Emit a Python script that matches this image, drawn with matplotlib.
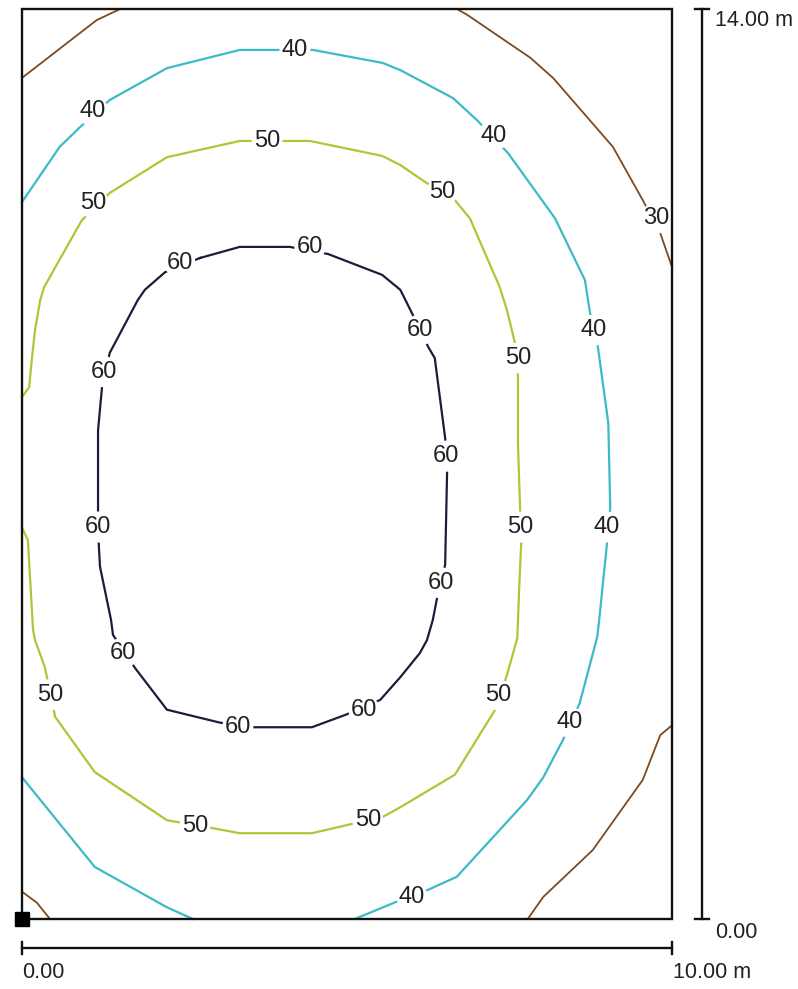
import numpy as np
import matplotlib.pyplot as plt

# Room is 10 m x 14 m, isolines traced in metres (x along width, y along depth)
room_w = 10.0
room_d = 14.0

# 60 isoline (closed loop)
iso60 = [(2.74, 10.17), (3.35, 10.34), (4.12, 10.34), (4.71, 10.23), (5.54, 9.91),
         (5.82, 9.68), (6.00, 9.32), (6.25, 8.80), (6.35, 8.63), (6.51, 7.40),
         (6.54, 6.88), (6.51, 5.45), (6.38, 4.91), (6.32, 4.60), (6.23, 4.29),
         (6.12, 4.09), (5.82, 3.72), (5.51, 3.37), (5.00, 3.15), (4.46, 2.95),
         (3.55, 2.95), (3.05, 3.02), (2.23, 3.22), (1.74, 3.86), (1.40, 4.37),
         (1.37, 4.60), (1.20, 5.42), (1.18, 5.78), (1.17, 6.29), (1.17, 7.52),
         (1.23, 8.17), (1.35, 8.71), (1.78, 9.52), (1.89, 9.68), (2.20, 9.95),
         (2.74, 10.17)]

# 50 isoline, both ends on the left wall
iso50 = [(0.00, 8.03), (0.11, 8.18), (0.15, 8.60), (0.20, 9.06), (0.28, 9.52),
         (0.34, 9.72), (0.92, 10.75), (1.35, 11.17), (2.23, 11.72), (3.35, 11.97),
         (4.43, 11.97), (5.54, 11.74), (5.82, 11.60), (6.20, 11.34), (6.66, 11.06),
         (6.89, 10.78), (7.35, 9.72), (7.46, 9.37), (7.58, 8.88), (7.63, 8.37),
         (7.63, 7.32), (7.68, 5.78), (7.65, 5.11), (7.62, 4.32), (7.46, 3.75),
         (7.28, 3.22), (6.66, 2.22), (5.82, 1.72), (5.55, 1.57), (5.02, 1.45),
         (4.46, 1.32), (3.35, 1.32), (2.92, 1.40), (2.23, 1.52), (1.12, 2.26),
         (0.51, 3.11), (0.35, 3.88), (0.20, 4.29), (0.17, 4.45), (0.09, 5.83),
         (0.00, 6.02)]

# 40 isoline: long arc from left wall to bottom wall, plus bottom-left corner piece
iso40_main = [(0.00, 11.03), (0.58, 11.88), (0.89, 12.18), (1.35, 12.60), (2.23, 13.09),
              (3.35, 13.37), (4.48, 13.37), (5.55, 13.17), (5.82, 13.06), (6.63, 12.63),
              (7.00, 12.29), (7.48, 11.78), (8.20, 10.78), (8.66, 9.83), (8.74, 9.32),
              (8.86, 8.80), (9.02, 7.63), (9.05, 6.32), (9.00, 5.78), (8.88, 4.60),
              (8.85, 4.34), (8.58, 3.32), (8.32, 2.75), (8.02, 2.18), (7.77, 1.83),
              (6.69, 0.65), (6.25, 0.45), (5.82, 0.29), (5.12, 0.00)]
iso40_corner = [(0.00, 2.18), (1.12, 0.80), (2.23, 0.18), (2.63, 0.00)]

# 30 isoline, only in the corners
iso30_tl = [(0.00, 12.94), (1.15, 13.83), (1.51, 14.00)]
iso30_tr = [(6.69, 14.00), (6.85, 13.91), (7.82, 13.25), (8.17, 12.94), (9.09, 11.88),
            (9.55, 11.06), (9.82, 10.55), (10.00, 10.03)]
iso30_br = [(10.00, 2.98), (9.82, 2.83), (9.55, 2.14), (8.78, 1.06), (8.02, 0.34),
            (7.78, 0.00)]
iso30_bl = [(0.00, 0.42), (0.23, 0.25), (0.43, 0.00)]

# label positions for each level
lab60 = [(2.43, 10.09), (4.43, 10.34), (6.12, 9.06), (6.52, 7.12), (6.45, 5.17),
         (5.26, 3.22), (3.32, 2.95), (1.55, 4.09), (1.17, 6.03), (1.26, 8.42)]
lab50 = [(1.09, 11.02), (3.77, 11.97), (6.46, 11.18), (7.63, 8.63), (7.66, 6.03),
         (7.32, 3.45), (5.32, 1.52), (2.66, 1.43), (0.43, 3.45)]
lab40 = [(1.09, 12.43), (4.20, 13.37), (7.25, 12.05), (8.80, 9.06), (9.00, 6.03),
         (8.42, 3.03), (6.00, 0.34)]
lab30 = [(9.75, 10.78)]

col60 = '#1d1d3b'
col50 = '#b7c236'
col40 = '#3cbac6'
col30 = '#7a4a22'

plt.rcParams['font.family'] = ['Liberation Sans', 'DejaVu Sans']

fig = plt.figure(figsize=(7.98, 9.89), dpi=100)
ax = fig.add_axes([0, 0, 1, 1])
ax.set_xlim(-22 / 65, 776 / 65)
ax.set_ylim(-70 / 65, 919 / 65)
ax.axis('off')


def draw_line(pts, color, lw=1.6):
    a = np.array(pts)
    ax.plot(a[:, 0], a[:, 1], color=color, lw=lw, solid_joinstyle='miter', zorder=2)


def draw_labels(pts, text):
    for x, y in pts:
        ax.text(x, y, text, ha='center', va='center', fontsize=17, color='#222222', zorder=4,
                bbox=dict(boxstyle='circle,pad=0.1', fc='white', ec='none'))


draw_line(iso60, col60)
draw_line(iso50, col50)
draw_line(iso40_main, col40)
draw_line(iso40_corner, col40)
for seg in (iso30_tl, iso30_tr, iso30_br, iso30_bl):
    draw_line(seg, col30, lw=1.3)

draw_labels(lab60, '60')
draw_labels(lab50, '50')
draw_labels(lab40, '40')
draw_labels(lab30, '30')

# room outline
ax.plot([0, room_w, room_w, 0, 0], [0, 0, room_d, room_d, 0], color='#111111', lw=1.7,
        solid_joinstyle='miter', zorder=5)
# reference corner marker
ax.plot([0], [0], marker='s', ms=9.5, color='black', zorder=6)

# dimension bars
bx = 10.46
ax.plot([bx, bx], [0, room_d], color='#111111', lw=1.7)
for yy in (0, room_d):
    ax.plot([bx - 0.11, bx + 0.11], [yy, yy], color='#111111', lw=1.7)
by = -0.446
ax.plot([0, room_w], [by, by], color='#111111', lw=1.7)
for xx in (0, room_w):
    ax.plot([xx, xx], [by - 0.09, by + 0.09], color='#111111', lw=1.7)

ax.text(10.66, 13.82, '14.00 m', ha='left', va='center', fontsize=15.5, color='#222222')
ax.text(10.66, -0.20, '0.00', ha='left', va='center', fontsize=15.5, color='#222222')
ax.text(0.0, -0.83, '0.00', ha='left', va='center', fontsize=15.5, color='#222222')
ax.text(10.02, -0.83, '10.00 m', ha='left', va='center', fontsize=15.5, color='#222222')

fig.savefig('out.png', dpi=100, facecolor='white')
